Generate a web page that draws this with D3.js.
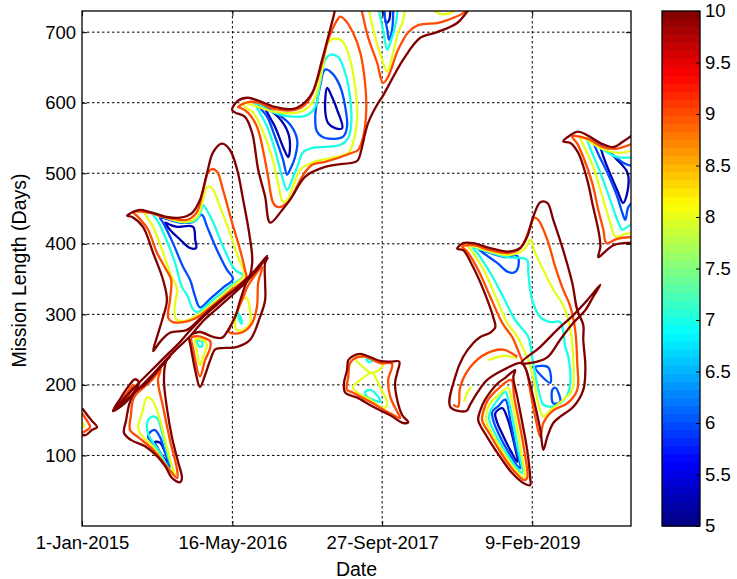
<!DOCTYPE html>
<html>
<head>
<meta charset="utf-8">
<script src="https://cdn.jsdelivr.net/npm/d3@7"></script>
<style>
body { margin: 0; background: #fff; }
svg { font-family: "Liberation Sans", Arial, Helvetica, sans-serif; }
</style>
</head>
<body>
<svg id="chart"></svg>
<script>
// x values: days after 1-Jan-2015, y values: mission length in days
let dateTicks = [0, 501, 1000, 1500]
let dateLabels = ['1-Jan-2015', '16-May-2016', '27-Sept-2017', '9-Feb-2019']
let lengthTicks = [100, 200, 300, 400, 500, 600, 700]
let colorTicks = [5, 5.5, 6, 6.5, 7, 7.5, 8, 8.5, 9, 9.5, 10]
let levels = [5.25, 6, 7, 8, 9, 10]

// contour level 10 (dark red)
let level10 = [
  [[0,167],[20,156],[33,149],[50,140],[33,136],[13,129],[0,129]],
  [[103,163],[130,182],[153,197],[177,208],[190,203],[173,190],[143,174],[103,163]],
  [[103,163],[143,182],[183,200],[230,220],[277,240],[320,258],[360,277],[410,299],[467,320],[527,342],[577,363],[617,383],[600,372],[560,352],[513,332],[460,312],[407,292],[360,269],[313,250],[270,231],[227,211],[180,191],[140,176],[103,163]],
  [[190,195],[170,186],[157,172],[147,150],[140,132],[163,122],[210,113],[250,99],[277,85],[300,68],[327,62],[333,68],[320,91],[300,125],[283,167],[273,207],[280,233],[293,240],[260,224],[227,208],[203,198],[190,195]],
  [[150,440],[170,445],[193,448],[227,445],[283,438],[327,437],[367,444],[393,462],[417,501],[437,530],[467,542],[493,533],[517,505],[537,462],[557,415],[567,373],[550,346],[493,330],[437,311],[393,294],[350,278],[293,274],[260,261],[237,248],[250,268],[267,292],[283,320],[270,349],[237,387],[203,424],[167,438],[150,440]],
  [[365,272],[393,275],[437,268],[467,267],[487,278],[510,296],[527,320],[550,349]],
  [[355,268],[360,259],[377,221],[393,197],[410,214],[427,235],[443,250],[460,252],[517,254],[560,264],[593,296],[610,320],[610,345],[610,373],[620,381]],
  [[845,740],[843,732],[820,693],[800,661],[767,614],[733,597],[700,591],[643,594],[587,603],[553,607],[520,603],[500,590],[510,586],[543,580],[567,557],[587,505],[610,467],[627,430],[667,448],[700,467],[743,495],[810,509],[910,516],[920,519],[953,571],[987,600],[1000,608],[1070,661],[1127,692],[1183,700],[1250,713],[1283,729],[1300,739]],
  [[887,235],[903,241],[927,244],[993,234],[1027,233],[1057,233],[1050,217],[1043,203],[1050,179],[1067,157],[1087,147],[1070,146],[1027,157],[970,169],[917,182],[877,189],[873,203],[883,221],[887,235]],
  [[1250,393],[1270,401],[1303,401],[1360,394],[1417,389],[1460,394],[1483,410],[1503,438],[1527,459],[1550,458],[1570,434],[1603,391],[1633,345],[1650,306],[1670,285],[1670,264],[1677,225],[1670,193],[1637,169],[1593,155],[1570,146],[1550,126],[1537,108],[1527,136],[1503,183],[1487,211],[1477,224],[1463,231],[1403,221],[1350,207],[1317,189],[1293,172],[1280,163],[1227,169],[1243,211],[1270,240],[1303,259],[1327,268],[1360,274],[1377,282],[1370,296],[1337,335],[1303,367],[1270,391],[1250,393]],
  [[1463,231],[1527,254],[1583,278],[1637,299],[1683,320],[1727,342],[1703,325],[1677,306],[1637,288],[1593,264],[1553,240],[1517,233],[1463,231]],
  [[1327,164],[1320,150],[1350,126],[1393,98],[1433,75],[1470,61],[1493,58],[1493,69],[1483,108],[1467,146],[1450,183],[1437,211],[1443,221],[1410,210],[1387,203],[1343,179],[1327,164]],
  [[1840,556],[1803,545],[1770,537],[1727,543],[1683,554],[1653,559],[1627,554],[1603,545],[1627,543],[1653,529],[1683,491],[1703,452],[1720,420],[1727,396],[1720,381],[1743,389],[1770,398],[1803,401],[1840,401]]
]

// contour level 9 (orange red)
let level9 = [
  [[0,160],[17,149],[27,140],[13,135],[0,132]],
  [[120,170],[147,187],[170,200],[160,189],[133,174],[120,170]],
  [[160,136],[187,126],[237,108],[283,84],[317,68],[317,79],[293,122],[270,169],[253,207],[262,222],[233,207],[207,197],[183,188],[170,179],[163,157],[160,136]],
  [[170,445],[227,444],[270,438],[310,435],[350,434],[383,445],[403,476],[420,501],[433,506],[450,502],[470,476],[500,430],[527,391],[543,363],[547,352],[493,333],[437,313],[377,294],[337,289],[303,289],[287,295],[293,320],[297,349],[277,366],[250,387],[220,420],[187,438],[170,445]],
  [[365,267],[371,250],[393,212],[410,235],[427,252],[427,262],[404,267],[382,269],[365,267]],
  [[600,367],[587,345],[583,311],[567,288],[537,275],[503,273],[490,275],[497,285],[515,302],[533,320],[555,342],[600,367]],
  [[520,594],[553,601],[587,600],[643,591],[710,590],[743,597],[770,615],[800,657],[820,689],[850,717],[860,722],[877,717],[903,699],[927,671],[943,628],[947,590],[937,552],[920,533],[900,529],[810,516],[767,512],[733,495],[710,476],[687,459],[653,452],[637,458],[620,495],[603,533],[583,566],[553,586],[527,593],[520,594]],
  [[930,735],[953,693],[983,657],[1003,628],[1020,637],[1053,675],[1087,700],[1120,710],[1187,713],[1217,717],[1270,727],[1287,735]],
  [[893,231],[910,238],[943,240],[993,231],[1033,230],[1020,207],[1027,183],[1050,162],[1060,153],[1017,162],[960,176],[903,189],[883,193],[887,211],[893,231]],
  [[1267,396],[1303,398],[1360,391],[1417,387],[1453,391],[1477,406],[1493,424],[1507,437],[1520,434],[1550,406],[1577,367],[1603,335],[1627,311],[1643,278],[1650,231],[1650,193],[1617,174],[1570,164],[1537,146],[1527,126],[1510,155],[1493,193],[1483,217],[1463,238],[1443,259],[1433,268],[1400,288],[1360,325],[1320,363],[1283,389],[1267,396]],
  [[1237,172],[1253,169],[1260,197],[1293,225],[1350,245],[1403,250],[1450,240]],
  [[1337,162],[1333,150],[1360,129],[1400,101],[1437,79],[1473,65],[1483,68],[1473,108],[1457,146],[1440,182],[1430,207],[1393,197],[1353,179],[1337,162]],
  [[1840,543],[1783,535],[1737,537],[1683,549],[1633,552],[1650,542],[1670,523],[1700,486],[1720,448],[1737,420],[1747,401],[1783,407],[1840,410]]
]

// contour level 8 (yellow)
let level8 = [
  [[0,147],[7,142],[0,139]],
  [[187,140],[200,160],[217,182],[233,179],[253,160],[277,122],[300,84],[310,72],[283,84],[237,112],[193,132],[187,140]],
  [[210,445],[260,440],[303,434],[350,431],[383,438],[403,462],[417,481],[433,479],[460,452],[493,415],[520,381],[540,356],[493,337],[437,316],[377,297],[327,290],[310,296],[310,316],[317,335],[293,359],[267,391],[237,424],[213,440],[210,445]],
  [[377,264],[382,250],[393,228],[404,240],[416,255],[410,262],[393,265],[377,264]],
  [[532,320],[549,323],[560,306],[560,287],[538,278],[516,278],[510,290],[518,306],[532,320]],
  [[537,600],[587,594],[643,587],[717,586],[753,593],[777,608],[800,647],[820,685],[843,691],[870,686],[893,661],[910,623],[917,580],[903,543],[887,529],[833,522],[767,515],[727,505],[703,481],[683,462],[670,459],[653,486],[633,523],[600,562],[570,586],[543,594],[537,600]],
  [[953,735],[977,693],[1000,661],[1017,644],[1033,665],[1053,699],[1067,713],[1077,735]],
  [[1160,735],[1193,726],[1227,727],[1250,735]],
  [[910,238],[937,225],[967,217],[1003,228],[977,235],[943,240],[910,238]],
  [[967,217],[927,207],[903,197],[917,189],[960,179],[1007,167],[1017,174],[993,197],[977,211],[967,217]],
  [[1283,398],[1360,389],[1417,384],[1453,387],[1477,394],[1493,406],[1510,387],[1537,363],[1570,335],[1603,313],[1627,278],[1637,231],[1633,193],[1603,179],[1560,164],[1537,155],[1520,174],[1503,211],[1483,240],[1467,254],[1450,268],[1417,288],[1383,320],[1343,359],[1300,389],[1283,398]],
  [[1273,176],[1283,189],[1297,197]],
  [[1353,235],[1403,241],[1450,238]],
  [[1347,159],[1347,147],[1370,128],[1407,102],[1440,82],[1473,69],[1463,105],[1447,146],[1430,182],[1420,196],[1383,184],[1357,172],[1347,159]],
  [[1840,533],[1783,529],[1727,536],[1660,552],[1670,540],[1703,509],[1737,462],[1760,430],[1777,410],[1803,413],[1840,417]]
]

// contour level 7 (cyan)
let level7 = [
  [[217,136],[220,150],[233,155],[250,153],[267,132],[287,98],[303,77],[293,79],[260,104],[227,125],[217,136]],
  [[233,444],[277,438],[327,431],[360,431],[383,434],[400,452],[403,455],[433,434],[470,396],[510,363],[537,355],[493,340],[437,321],[383,303],[367,309],[353,325],[333,339],[310,373],[277,410],[250,434],[233,444]],
  [[382,262],[393,254],[402,256],[398,262],[382,262]],
  [[518,303],[528,296],[533,287],[526,290],[518,303]],
  [[577,600],[633,587],[710,580],[753,583],[777,594],[793,628],[810,661],[827,668],[853,665],[877,642],[893,608],[897,571],[887,550],[860,540],[767,536],[737,530],[717,509],[700,491],[683,476],[667,495],[643,533],[617,566],[587,590],[577,600]],
  [[987,735],[1003,703],[1017,675],[1027,685],[1043,708],[1053,735]],
  [[943,190],[960,193],[987,183],[993,176],[970,179],[950,183],[943,190]],
  [[947,237],[967,235],[957,232],[947,237]],
  [[1303,394],[1417,381],[1460,380],[1483,377],[1487,359],[1493,335],[1503,316],[1527,296],[1560,289],[1593,289],[1610,254],[1620,240],[1627,203],[1617,186],[1593,174],[1560,169],[1537,172],[1517,200],[1503,231],[1487,268],[1470,278],[1443,292],[1403,325],[1360,359],[1317,387],[1303,394]],
  [[1360,162],[1357,150],[1380,128],[1413,104],[1443,85],[1467,75],[1453,108],[1437,146],[1420,179],[1410,190],[1380,176],[1360,162]],
  [[1840,523],[1783,523],[1737,533],[1683,550],[1693,536],[1727,501],[1760,462],[1787,430],[1800,420],[1817,424],[1840,430]]
]

// contour level 6 (blue)
let level6 = [
  [[220,126],[227,133],[243,136],[260,126],[277,104],[293,84],[277,91],[250,111],[233,119],[220,126]],
  [[260,437],[327,430],[370,431],[387,438],[400,441],[417,424],[450,391],[483,363],[503,350],[470,338],[427,322],[393,310],[377,325],[360,349],[337,367],[303,401],[270,430],[260,437]],
  [[587,597],[643,586],[693,569],[717,547],[710,523],[693,505],[683,498],[670,519],[643,552],[617,580],[593,593],[587,597]],
  [[810,647],[833,642],[860,623],[877,594],[883,566],[870,552],[810,550],[783,559],[777,580],[793,623],[810,647]],
  [[1003,735],[1017,703],[1023,689],[1033,703],[1037,735]],
  [[1317,394],[1360,387],[1417,381],[1443,384],[1453,381],[1453,367],[1443,360],[1420,360],[1383,373],[1337,387],[1317,394]],
  [[1510,225],[1553,225],[1560,203],[1510,225]],
  [[1567,193],[1577,196],[1593,176],[1570,174],[1567,193]],
  [[1367,162],[1370,150],[1390,129],[1420,105],[1450,85],[1460,82],[1443,115],[1427,150],[1410,179],[1387,170],[1367,162]],
  [[1840,509],[1803,515],[1760,529],[1703,547],[1717,530],[1750,501],[1783,467],[1800,444],[1810,434],[1820,452],[1840,462]]
]

// contour level 5.25 (navy)
let level5 = [
  [[243,119],[260,118],[277,104],[287,91],[270,98],[250,112],[243,119]],
  [[277,430],[293,427],[317,424],[370,424],[377,406],[380,394],[360,394],[327,406],[293,420],[277,430]],
  [[610,593],[653,580],[687,557],[693,537],[687,523],[670,537],[643,566],[617,586],[610,593]],
  [[817,621],[833,608],[850,590],[867,564],[843,564],[820,571],[810,590],[817,621]],
  [[1007,735],[1013,713],[1023,717],[1027,735]],
  [[1377,160],[1383,147],[1403,128],[1430,105],[1450,91],[1437,122],[1417,153],[1400,167],[1377,160]],
  [[1727,540],[1783,519],[1817,501],[1820,481],[1803,458],[1783,476],[1750,509],[1733,529],[1727,540]]
]

let contourSets = [level5, level6, level7, level8, level9, level10]

let width = 737
let height = 579
let plot = {left: 82, right: 631, top: 11, bottom: 526}
let bar = {left: 662, right: 700}
let tickFont = 18.5
let labelFont = 19.5

let startDate = Date.UTC(2015, 0, 1)
let toDate = d => new Date(startDate + d * 864e5)

let svg = d3.select('#chart').attr('width', width).attr('height', height)

let xAxisScale = d3.scaleUtc()
                   .domain([toDate(0), toDate(1829)])
                   .range([plot.left, plot.right])
let yAxisScale = d3.scaleLinear()
                   .domain([0, 730])
                   .range([plot.bottom, plot.top])
let colorScale = d3.scaleLinear()
                   .domain([5, 10])
                   .range([plot.bottom, plot.top])

// MATLAB style jet colormap
let jet = t => {
    let c = v => Math.round(255 * Math.max(0, Math.min(1, v)))
    return d3.rgb(c(1.5 - Math.abs(4 * t - 3)), c(1.5 - Math.abs(4 * t - 2)), c(1.5 - Math.abs(4 * t - 1))).formatHex()
}
let levelColor = v => jet((v - 5) / 5)

let drawGrid = () => {
    let grid = svg.append('g').attr('stroke', '#000').attr('stroke-width', 1).attr('stroke-dasharray', '2.5,2.5')
    grid.selectAll('line.vx')
        .data(dateTicks.slice(1))
        .enter()
        .append('line')
        .attr('x1', d => xAxisScale(toDate(d)))
        .attr('x2', d => xAxisScale(toDate(d)))
        .attr('y1', plot.top)
        .attr('y2', plot.bottom)
    grid.selectAll('line.hy')
        .data(lengthTicks)
        .enter()
        .append('line')
        .attr('x1', plot.left)
        .attr('x2', plot.right)
        .attr('y1', d => yAxisScale(d))
        .attr('y2', d => yAxisScale(d))
}

let drawContours = () => {
    svg.append('clipPath').attr('id', 'plotclip')
       .append('rect')
       .attr('x', plot.left).attr('y', plot.top)
       .attr('width', plot.right - plot.left).attr('height', plot.bottom - plot.top)

    let g = svg.append('g').attr('clip-path', 'url(#plotclip)')
    let openLine = d3.line()
                     .x(p => xAxisScale(toDate(p[0])))
                     .y(p => yAxisScale(p[1]))
                     .curve(d3.curveCatmullRom.alpha(0.5))
    let closedLine = d3.line()
                       .x(p => xAxisScale(toDate(p[0])))
                       .y(p => yAxisScale(p[1]))
                       .curve(d3.curveCatmullRomClosed.alpha(0.5))
    let pathOf = pts => {
        let a = pts[0], b = pts[pts.length - 1]
        if (pts.length > 3 && a[0] === b[0] && a[1] === b[1]) {
            return closedLine(pts.slice(0, -1))
        }
        return openLine(pts)
    }

    contourSets.forEach((set, i) => {
        g.append('g')
         .selectAll('path')
         .data(set)
         .enter()
         .append('path')
         .attr('d', pathOf)
         .attr('fill', 'none')
         .attr('stroke', levelColor(levels[i]))
         .attr('stroke-width', 2.3)
         .attr('stroke-linejoin', 'round')
    })
}

let drawAxes = () => {
    let xAxis = d3.axisBottom(xAxisScale)
                  .tickValues(dateTicks.map(toDate))
                  .tickFormat((d, i) => dateLabels[i])
                  .tickSizeInner(-5).tickSizeOuter(0).tickPadding(10)
    svg.append('g')
       .attr('transform', 'translate(0,' + plot.bottom + ')')
       .call(xAxis)
       .call(g => g.select('.domain').remove())
       .selectAll('text').attr('font-size', tickFont).attr('fill', '#000')

    let xTop = d3.axisTop(xAxisScale)
                 .tickValues(dateTicks.map(toDate))
                 .tickFormat('')
                 .tickSizeInner(-5).tickSizeOuter(0)
    svg.append('g')
       .attr('transform', 'translate(0,' + plot.top + ')')
       .call(xTop)
       .call(g => g.select('.domain').remove())

    let yAxis = d3.axisLeft(yAxisScale)
                  .tickValues(lengthTicks)
                  .tickSizeInner(-5).tickSizeOuter(0).tickPadding(6)
    svg.append('g')
       .attr('transform', 'translate(' + plot.left + ',0)')
       .call(yAxis)
       .call(g => g.select('.domain').remove())
       .selectAll('text').attr('font-size', tickFont).attr('fill', '#000')

    let yRight = d3.axisRight(yAxisScale)
                   .tickValues(lengthTicks)
                   .tickFormat('')
                   .tickSizeInner(-5).tickSizeOuter(0)
    svg.append('g')
       .attr('transform', 'translate(' + plot.right + ',0)')
       .call(yRight)
       .call(g => g.select('.domain').remove())

    svg.append('rect')
       .attr('x', plot.left).attr('y', plot.top)
       .attr('width', plot.right - plot.left).attr('height', plot.bottom - plot.top)
       .attr('fill', 'none').attr('stroke', '#000').attr('stroke-width', 1.3)

    svg.append('text')
       .attr('x', (plot.left + plot.right) / 2)
       .attr('y', 576)
       .attr('text-anchor', 'middle')
       .attr('font-size', labelFont)
       .text('Date')

    svg.append('text')
       .attr('transform', 'translate(26,' + ((plot.top + plot.bottom) / 2 + 2) + ') rotate(-90)')
       .attr('text-anchor', 'middle')
       .attr('font-size', labelFont)
       .text('Mission Length (Days)')
}

let drawColorbar = () => {
    let n = 64
    let step = 5 / n
    svg.append('g')
       .selectAll('rect')
       .data(d3.range(n))
       .enter()
       .append('rect')
       .attr('x', bar.left)
       .attr('width', bar.right - bar.left)
       .attr('y', i => colorScale(5 + (i + 1) * step))
       .attr('height', i => colorScale(5 + i * step) - colorScale(5 + (i + 1) * step) + 0.6)
       .attr('fill', i => jet((i + 0.5) / n))

    let cAxis = d3.axisRight(colorScale)
                  .tickValues(colorTicks)
                  .tickFormat(d3.format('~g'))
                  .tickSizeInner(-4).tickSizeOuter(0).tickPadding(5)
    svg.append('g')
       .attr('transform', 'translate(' + bar.right + ',0)')
       .call(cAxis)
       .call(g => g.select('.domain').remove())
       .selectAll('text').attr('font-size', tickFont).attr('fill', '#000')

    svg.append('rect')
       .attr('x', bar.left).attr('y', plot.top)
       .attr('width', bar.right - bar.left).attr('height', plot.bottom - plot.top)
       .attr('fill', 'none').attr('stroke', '#000').attr('stroke-width', 1.3)
}

drawGrid()
drawContours()
drawAxes()
drawColorbar()
</script>
</body>
</html>
